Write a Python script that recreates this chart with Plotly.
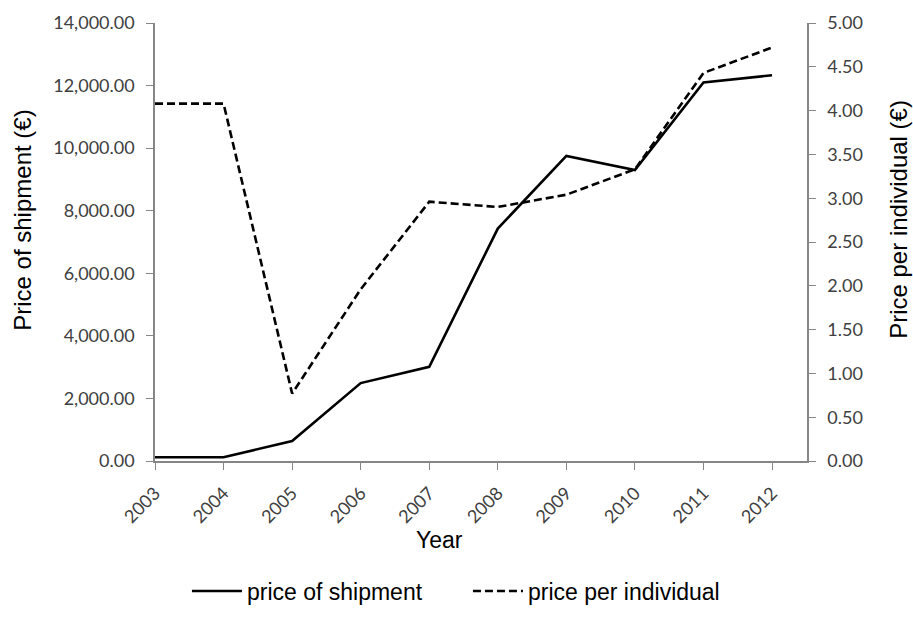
import plotly.graph_objects as go

years = [2003, 2004, 2005, 2006, 2007, 2008, 2009, 2010, 2011, 2012]
price_shipment = [120, 120, 640, 2490, 3010, 7430, 9750, 9300, 12100, 12330]
price_individual = [4.08, 4.08, 0.77, 1.96, 2.96, 2.90, 3.04, 3.33, 4.43, 4.72]

fig = go.Figure()
fig.add_trace(go.Scatter(x=years, y=price_shipment, mode="lines", name="price of shipment",
                         line=dict(color="black", width=2.6), yaxis="y"))
fig.add_trace(go.Scatter(x=years, y=price_individual, mode="lines", name="price per individual",
                         line=dict(color="black", width=2.6, dash="8px,4px"), yaxis="y2"))

tickfont = dict(family="Lato, Open Sans, sans-serif", size=18, color="#404040")
titlefont = dict(family="Liberation Sans, Arial, sans-serif", size=24, color="black")
axcol = "#868686"
fig.update_layout(
    width=913, height=625,
    margin=dict(l=155, r=106, t=23, b=148),
    plot_bgcolor="white", paper_bgcolor="white",
    showlegend=True,
    legend=dict(orientation="h", x=0.049, xanchor="left", y=-0.297, yanchor="middle",
                font=dict(family="Liberation Sans, Arial, sans-serif", size=23, color="black"),
                itemwidth=50, entrywidth=216),
    xaxis=dict(range=[2003, 2012.51], tickvals=years, ticktext=[str(y) for y in years],
               tickangle=-45, ticks="outside", ticklen=7, tickcolor=axcol,
               showline=True, linecolor=axcol, linewidth=1.5, showgrid=False, zeroline=False,
               tickfont=tickfont, automargin=False, ticklabelstandoff=6),
    yaxis=dict(range=[0, 14000], dtick=2000, tickformat=",.2f", ticks="outside", ticklen=7,
               tickcolor=axcol, showline=True, linecolor=axcol, linewidth=1.5, showgrid=False,
               zeroline=False, tickfont=tickfont, automargin=False, ticklabelstandoff=8),
    yaxis2=dict(range=[0, 5], dtick=0.5, tickformat=".2f", ticks="outside", ticklen=7,
                tickcolor=axcol, showline=True, linecolor=axcol, linewidth=1.5, showgrid=False,
                zeroline=False, tickfont=tickfont, overlaying="y", side="right", automargin=False,
                ticklabelstandoff=8),
    annotations=[
        dict(text="Year", xref="paper", yref="paper", x=0.437, y=-0.1806, xanchor="center",
             yanchor="middle", showarrow=False,
             font=dict(family="Liberation Sans, Arial, sans-serif", size=23, color="black")),
        dict(text="Price of shipment (€)", xref="paper", yref="paper", x=-0.2025, y=0.5507,
             xanchor="center", yanchor="middle", textangle=-90, showarrow=False, font=titlefont),
        dict(text="Price per individual (€)", xref="paper", yref="paper", x=1.1411, y=0.5529,
             xanchor="center", yanchor="middle", textangle=-90, showarrow=False, font=titlefont),
    ],
)
fig.write_html("out.html")
